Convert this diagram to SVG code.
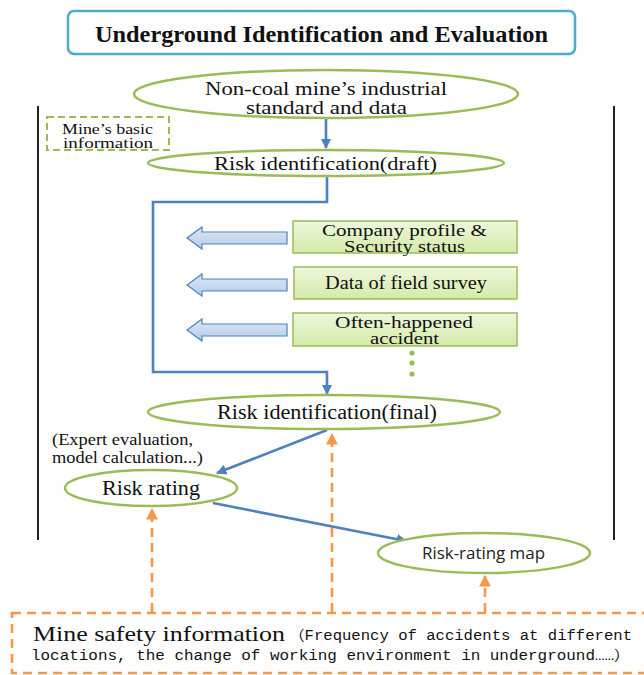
<svg xmlns="http://www.w3.org/2000/svg" width="644" height="675" viewBox="0 0 644 675">
  <defs>
    <marker id="blueHead" viewBox="0 0 10 10" refX="9" refY="5" markerWidth="4" markerHeight="4" orient="auto" markerUnits="strokeWidth">
      <path d="M0,0 L10,5 L0,10 Z" fill="#4F81BD"/>
    </marker>
    <marker id="orangeHead" viewBox="0 0 10 10" refX="9" refY="5" markerWidth="4.5" markerHeight="4.5" orient="auto" markerUnits="strokeWidth">
      <path d="M0,0 L10,5 L0,10 Z" fill="#F79646"/>
    </marker>
    <linearGradient id="greenFill" x1="0" y1="0" x2="0" y2="1">
      <stop offset="0" stop-color="#EEF7DD"/>
      <stop offset="1" stop-color="#D4EBA8"/>
    </linearGradient>
    <linearGradient id="blueFill" x1="0" y1="0" x2="0" y2="1">
      <stop offset="0" stop-color="#DCE6F4"/>
      <stop offset="1" stop-color="#B6CCEA"/>
    </linearGradient>
    <style>
      .serif { font-family: "Liberation Serif", "DejaVu Serif", serif; fill: #111; }
      .mono { font-family: "Liberation Mono", "Noto Sans CJK SC", monospace; fill: #111; font-size: 14px; }
      .oval { fill: #fff; stroke: #9BBB59; stroke-width: 2.5; }
      .src { fill: url(#greenFill); stroke: #9BBB59; stroke-width: 1.5; }
      .blk { fill: url(#blueFill); stroke: #4F81BD; stroke-width: 1.2; }
      .flow { fill: none; stroke: #4F81BD; stroke-width: 2.6; }
      .info { fill: none; stroke: #F79646; stroke-width: 2.6; stroke-dasharray: 9 6; }
      .rule { stroke: #222; stroke-width: 2; }
    </style>
  </defs>

  <!-- header -->
  <g id="title">
    <rect x="68" y="11" width="507" height="43" rx="6" fill="#fff" stroke="#4BACC6" stroke-width="2.5"/>
    <text class="serif" x="95" y="42" font-size="24" font-weight="bold" textLength="453" lengthAdjust="spacingAndGlyphs">Underground Identification and Evaluation</text>
  </g>

  <!-- side rules -->
  <line class="rule" x1="38" y1="106" x2="38" y2="540"/>
  <line class="rule" x1="614" y1="106" x2="614" y2="540"/>

  <!-- connectors -->
  <g id="connectors">
    <line class="flow" x1="326" y1="119" x2="326" y2="148" marker-end="url(#blueHead)"/>
    <polyline class="flow" points="327,177 327,202 153,202 153,372 327,372 327,394" marker-end="url(#blueHead)"/>
    <line class="flow" x1="327" y1="430" x2="217" y2="473" marker-end="url(#blueHead)"/>
    <line class="flow" x1="213" y1="503" x2="406" y2="541" marker-end="url(#blueHead)"/>
    <line class="info" x1="152" y1="612" x2="152" y2="509" marker-end="url(#orangeHead)"/>
    <line class="info" x1="332" y1="612" x2="332" y2="434" marker-end="url(#orangeHead)"/>
    <line class="info" x1="485" y1="612" x2="485" y2="576" marker-end="url(#orangeHead)"/>
    <!-- block arrows feeding the identification loop -->
    <path class="blk" d="M287,232 L202,232 L202,227 L187,238 L202,249 L202,244 L287,244 Z"/>
    <path class="blk" d="M287,279 L202,279 L202,274 L187,285 L202,296 L202,291 L287,291 Z"/>
    <path class="blk" d="M287,324 L202,324 L202,319 L187,330 L202,341 L202,336 L287,336 Z"/>
  </g>

  <g id="industrial-standard">
    <ellipse class="oval" cx="326" cy="94" rx="192" ry="24"/>
    <text class="serif" x="205" y="95" font-size="19" textLength="242" lengthAdjust="spacingAndGlyphs">Non-coal mine’s industrial</text>
    <text class="serif" x="246" y="114" font-size="19" textLength="161" lengthAdjust="spacingAndGlyphs">standard and data</text>
  </g>

  <g id="basic-information">
    <rect x="47" y="117" width="122" height="33" fill="none" stroke="#9BBB59" stroke-width="2" stroke-dasharray="7 4"/>
    <text class="serif" x="62" y="134" font-size="14" textLength="91" lengthAdjust="spacingAndGlyphs">Mine’s basic</text>
    <text class="serif" x="63" y="148" font-size="14" textLength="90" lengthAdjust="spacingAndGlyphs">information</text>
  </g>

  <g id="risk-id-draft">
    <ellipse class="oval" cx="326" cy="163" rx="178" ry="13"/>
    <text class="serif" x="214" y="170" font-size="19" textLength="223" lengthAdjust="spacingAndGlyphs">Risk identification(draft)</text>
  </g>

  <g id="company-profile">
    <rect class="src" x="293" y="221" width="224" height="32"/>
    <text class="serif" x="322" y="236" font-size="16" textLength="165" lengthAdjust="spacingAndGlyphs">Company profile &amp;</text>
    <text class="serif" x="344" y="252" font-size="16" textLength="121" lengthAdjust="spacingAndGlyphs">Security status</text>
  </g>

  <g id="field-survey">
    <rect class="src" x="294" y="267" width="223" height="32"/>
    <text class="serif" x="325" y="289" font-size="19" textLength="162" lengthAdjust="spacingAndGlyphs">Data of field survey</text>
  </g>

  <g id="accident">
    <rect class="src" x="293" y="313" width="224" height="33"/>
    <text class="serif" x="335" y="328" font-size="16" textLength="138" lengthAdjust="spacingAndGlyphs">Often-happened</text>
    <text class="serif" x="370" y="344" font-size="16" textLength="69" lengthAdjust="spacingAndGlyphs">accident</text>
  </g>

  <g id="more-sources" fill="#9BBB59">
    <circle cx="412" cy="353" r="2.6"/>
    <circle cx="412" cy="363" r="2.6"/>
    <circle cx="412" cy="374" r="2.6"/>
  </g>

  <g id="risk-id-final">
    <ellipse class="oval" cx="324" cy="412" rx="176" ry="17"/>
    <text class="serif" x="217" y="419" font-size="20" textLength="220" lengthAdjust="spacingAndGlyphs">Risk identification(final)</text>
  </g>

  <g id="method-note">
    <text class="serif" x="52" y="445" font-size="16" textLength="141" lengthAdjust="spacingAndGlyphs">(Expert evaluation,</text>
    <text class="serif" x="52" y="463" font-size="16" textLength="151" lengthAdjust="spacingAndGlyphs">model calculation...)</text>
  </g>

  <g id="risk-rating">
    <ellipse class="oval" cx="151" cy="488" rx="86" ry="18"/>
    <text class="serif" x="102" y="495" font-size="20" textLength="98" lengthAdjust="spacingAndGlyphs">Risk rating</text>
  </g>

  <g id="risk-map">
    <ellipse class="oval" cx="484" cy="553" rx="106" ry="20"/>
    <text x="422" y="559" font-size="16" textLength="123" lengthAdjust="spacingAndGlyphs" font-family="'Open Sans', 'Noto Sans', sans-serif" fill="#222">Risk-rating map</text>
  </g>

  <g id="safety-information">
    <rect x="12" y="613" width="640" height="60" fill="none" stroke="#F79646" stroke-width="2.6" stroke-dasharray="9 6"/>
    <text class="serif" x="33" y="641" font-size="22" textLength="252" lengthAdjust="spacingAndGlyphs">Mine safety information</text>
    <text class="mono" x="289" y="640" textLength="343" lengthAdjust="spacingAndGlyphs">（Frequency of accidents at different</text>
    <text class="mono" x="31" y="660" textLength="599" lengthAdjust="spacingAndGlyphs">locations, the change of working environment in underground……）</text>
  </g>
</svg>
